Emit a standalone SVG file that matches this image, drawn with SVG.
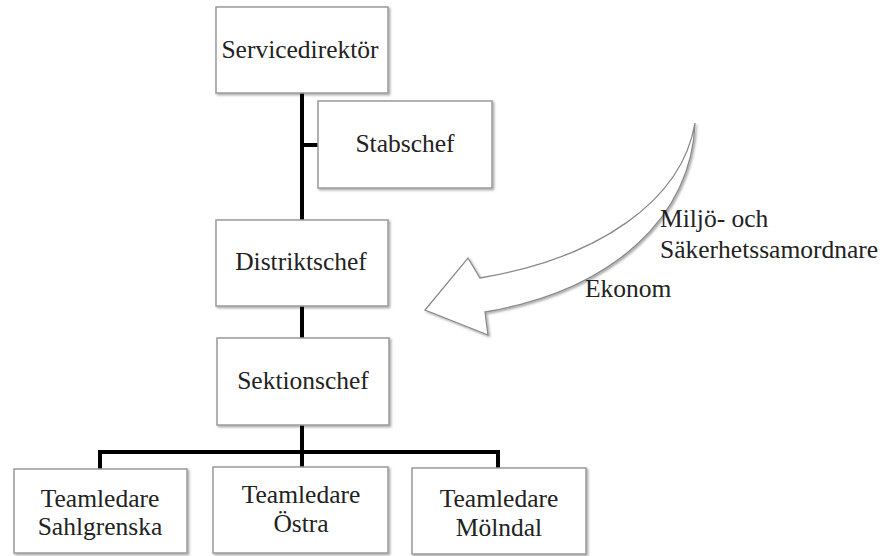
<svg xmlns="http://www.w3.org/2000/svg" width="884" height="556" viewBox="0 0 884 556">
<defs>
<filter id="sh" x="-10%" y="-10%" width="125%" height="125%">
<feDropShadow dx="1.5" dy="1.5" stdDeviation="1.2" flood-color="#000" flood-opacity="0.35"/>
</filter>
</defs>
<style>
.box{fill:#fff;stroke:#9a9a9a;stroke-width:1.5;filter:url(#sh)}
.c{fill:none;stroke:#000;stroke-width:4}
</style>
<rect width="884" height="556" fill="#fff"/>
<g id="connectors">
<path class="c" d="M302,93 V220 M302,145 H318 M302,306 V338 M302,425 V467 M100,469 V452 H498 V468"/>
</g>
<g font-family="'Liberation Serif', 'Times New Roman', 'DejaVu Serif', serif" font-size="25.5" fill="#222" text-anchor="middle">
<g id="n1"><rect class="box" x="216" y="7" width="172" height="86"/><text x="300" y="58">Servicedirektör</text></g>
<g id="n2"><rect class="box" x="318" y="101" width="174" height="87"/><text x="405" y="152">Stabschef</text></g>
<g id="n3"><rect class="box" x="216" y="220" width="172" height="86"/><text x="301" y="270">Distriktschef</text></g>
<g id="n4"><rect class="box" x="217" y="338" width="172" height="87"/><text x="303" y="389">Sektionschef</text></g>
<g id="n5"><rect class="box" x="14" y="469" width="173" height="84"/><text x="100" y="507">Teamledare</text><text x="100" y="535">Sahlgrenska</text></g>
<g id="n6"><rect class="box" x="213" y="467" width="175" height="86"/><text x="301" y="503">Teamledare</text><text x="301" y="532">Östra</text></g>
<g id="n7"><rect class="box" x="412" y="468" width="174" height="86"/><text x="499" y="507">Teamledare</text><text x="499" y="536">Mölndal</text></g>
</g>
<g id="arrow">
<path d="M695,123 C682,200 600,258 480,278 L468,258 L425,310 L488,335 L485,312 C615,290 692,215 695,123 Z" fill="#fff" stroke="#8a8a8a" stroke-width="1.3" filter="url(#sh)"/>
</g>
<g id="labels" font-family="'Liberation Serif', 'Times New Roman', 'DejaVu Serif', serif" font-size="25.5" fill="#222">
<text x="660" y="227">Miljö- och</text>
<text x="660" y="258">Säkerhetssamordnare</text>
<text x="585" y="297">Ekonom</text>
</g>
</svg>
